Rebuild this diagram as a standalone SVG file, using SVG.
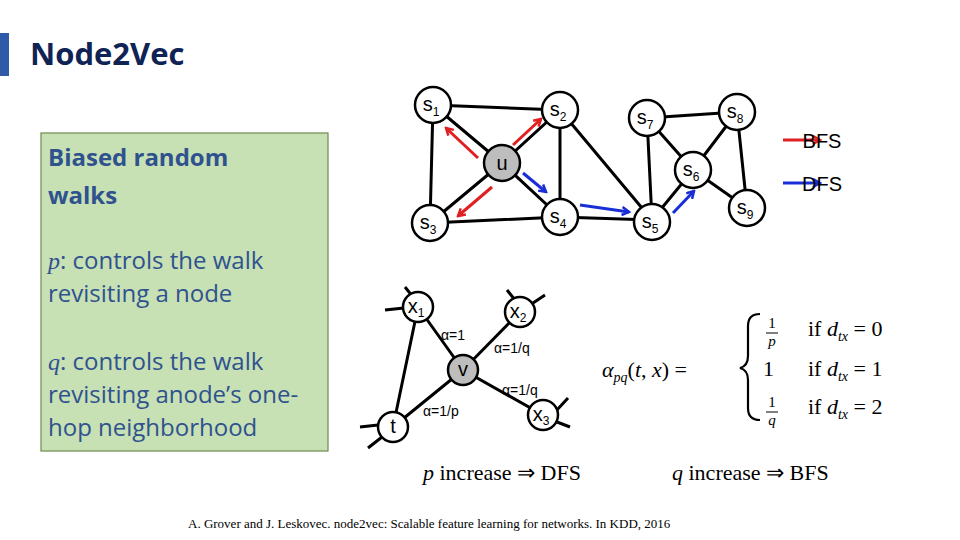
<svg xmlns="http://www.w3.org/2000/svg" width="960" height="540" viewBox="0 0 960 540">
<style>
.e{stroke:#000;stroke-width:3;fill:none}
.n circle{fill:#fff;stroke:#000;stroke-width:2.5}
.n circle.g{fill:#bdbdbd}
.lab{font-family:"Liberation Sans",Arial,sans-serif;font-size:20px;text-anchor:middle}
.sub{font-size:12px}
.al{font-family:"Liberation Sans",Arial,sans-serif;font-size:14px}
.bx{font-family:"Open Sans","Liberation Sans",sans-serif;font-size:24px;fill:#2f528f}
.m{font-family:"Liberation Serif","Times New Roman",serif;font-size:22px}
</style>
<defs>
<marker id="ar" markerWidth="10" markerHeight="10" refX="8" refY="5" orient="auto" markerUnits="userSpaceOnUse"><path d="M1,1 L8,5 L1,9" fill="none" stroke="#e02020" stroke-width="2.5"/></marker>
<marker id="ab" markerWidth="10" markerHeight="10" refX="8" refY="5" orient="auto" markerUnits="userSpaceOnUse"><path d="M1,1 L8,5 L1,9" fill="none" stroke="#1a2ed8" stroke-width="2.5"/></marker>
</defs>
<rect width="960" height="540" fill="#fff"/>
<rect x="0" y="33" width="9" height="43" fill="#2e5aa8"/>
<text x="30" y="65" font-family="Open Sans,Liberation Sans,sans-serif" font-weight="bold" font-size="31" fill="#0f2355">Node2Vec</text>
<g id="box">
<rect x="41" y="133" width="287" height="318" fill="#c7e0b4" stroke="#6e8a50" stroke-width="1.2"/>
<text class="bx" x="48" y="166" font-weight="bold" font-size="26">Biased random</text>
<text class="bx" x="48" y="204" font-weight="bold" font-size="26">walks</text>
<text class="bx" x="48" y="269"><tspan font-family="Liberation Serif,serif" font-style="italic">p</tspan>: controls the walk</text>
<text class="bx" x="48" y="302">revisiting a node</text>
<text class="bx" x="48" y="370"><tspan font-family="Liberation Serif,serif" font-style="italic">q</tspan>: controls the walk</text>
<text class="bx" x="48" y="403">revisiting anode’s one-</text>
<text class="bx" x="48" y="436">hop neighborhood</text>
</g>
<g id="connectors">
<path class="e" d="M433,105L560,110 M433,105L430,223 M433,105L502,163 M560,110L502,163 M560,110L560,217 M560,110L652,220 M430,223L502,163 M430,223L560,217 M502,163L560,217 M560,217L652,220 M652,220L647,118 M647,118L737,112 M647,118L693,170 M693,170L737,112 M693,170L652,220 M693,170L747,208 M737,112L747,208"/>
<path class="e" d="M418,307L463,370 M418,307L393,427 M393,427L463,370 M463,370L520,312 M463,370L543,415 M405,287L413,297 M385,310L404,308 M507,290L515,300 M545,295L533,303 M360,427L378,425 M368,448L382,437 M568,398L556,411 M570,427L557,422"/>
<g stroke-width="3" fill="none">
<path d="M478,158L446,128" stroke="#e02020" marker-end="url(#ar)"/>
<path d="M513,145L541,119" stroke="#e02020" marker-end="url(#ar)"/>
<path d="M492,187L458,216" stroke="#e02020" marker-end="url(#ar)"/>
<path d="M523,173L546,192" stroke="#1a2ed8" marker-end="url(#ab)"/>
<path d="M580,205L629,212" stroke="#1a2ed8" marker-end="url(#ab)"/>
<path d="M673,213L694,191" stroke="#1a2ed8" marker-end="url(#ab)"/>
<path d="M783,140L820,140" stroke="#e02020" marker-end="url(#ar)"/>
<path d="M783,183L820,183" stroke="#1a2ed8" marker-end="url(#ab)"/>
</g>
</g>
<text class="lab" x="822" y="148" text-anchor="start" font-size="23">BFS</text>
<text class="lab" x="822" y="191" text-anchor="start" font-size="23">DFS</text>
<g id="s1" class="n"><circle cx="433" cy="105" r="18"/><text class="lab" x="431" y="111">s<tspan class="sub" dy="5">1</tspan></text></g>
<g id="s2" class="n"><circle cx="560" cy="110" r="18"/><text class="lab" x="558" y="116">s<tspan class="sub" dy="5">2</tspan></text></g>
<g id="s3" class="n"><circle cx="430" cy="223" r="18"/><text class="lab" x="428" y="229">s<tspan class="sub" dy="5">3</tspan></text></g>
<g id="s4" class="n"><circle cx="560" cy="217" r="18"/><text class="lab" x="558" y="223">s<tspan class="sub" dy="5">4</tspan></text></g>
<g id="s5" class="n"><circle cx="652" cy="222" r="18"/><text class="lab" x="650" y="228">s<tspan class="sub" dy="5">5</tspan></text></g>
<g id="s6" class="n"><circle cx="693" cy="170" r="18"/><text class="lab" x="691" y="176">s<tspan class="sub" dy="5">6</tspan></text></g>
<g id="s7" class="n"><circle cx="647" cy="118" r="18"/><text class="lab" x="645" y="124">s<tspan class="sub" dy="5">7</tspan></text></g>
<g id="s8" class="n"><circle cx="737" cy="112" r="18"/><text class="lab" x="735" y="118">s<tspan class="sub" dy="5">8</tspan></text></g>
<g id="s9" class="n"><circle cx="747" cy="208" r="18"/><text class="lab" x="745" y="214">s<tspan class="sub" dy="5">9</tspan></text></g>
<g id="u" class="n"><circle class="g" cx="502" cy="163" r="18"/><text class="lab" x="502" y="170">u</text></g>
<g id="x1" class="n"><circle cx="418" cy="307" r="15"/><text class="lab" x="416" y="313" font-size="16">x<tspan class="sub" font-size="10" dy="4">1</tspan></text></g>
<g id="x2" class="n"><circle cx="520" cy="312" r="15"/><text class="lab" x="518" y="318" font-size="16">x<tspan class="sub" font-size="10" dy="4">2</tspan></text></g>
<g id="x3" class="n"><circle cx="543" cy="415" r="15"/><text class="lab" x="541" y="421" font-size="16">x<tspan class="sub" font-size="10" dy="4">3</tspan></text></g>
<g id="v" class="n"><circle class="g" cx="463" cy="370" r="15"/><text class="lab" x="463" y="376" font-size="16">v</text></g>
<g id="t" class="n"><circle cx="393" cy="427" r="15"/><text class="lab" x="393" y="433" font-size="16">t</text></g>
<text class="al" x="441" y="340">α=1</text>
<text class="al" x="494" y="353">α=1/q</text>
<text class="al" x="502" y="395">α=1/q</text>
<text class="al" x="423" y="416">α=1/p</text>
<g id="formula" font-family="Liberation Serif,serif" font-size="22">
<text x="602" y="377"><tspan font-style="italic">α</tspan><tspan font-style="italic" font-size="14" dy="5">pq</tspan><tspan dy="-5">(</tspan><tspan font-style="italic">t</tspan>, <tspan font-style="italic">x</tspan>) =</text>
<path d="M760,314 Q748,314 748,326 L748,356 Q748,366 740,368 Q748,370 748,380 L748,408 Q748,420 760,420" fill="none" stroke="#000" stroke-width="2.2"/>
<text x="772" y="328" font-size="15" text-anchor="middle">1</text><line x1="766" y1="333" x2="778" y2="333" stroke="#000" stroke-width="1"/><text x="772" y="346" font-size="15" font-style="italic" text-anchor="middle">p</text>
<text x="763" y="376">1</text>
<text x="772" y="407" font-size="15" text-anchor="middle">1</text><line x1="766" y1="412" x2="778" y2="412" stroke="#000" stroke-width="1"/><text x="772" y="425" font-size="15" font-style="italic" text-anchor="middle">q</text>
<text x="808" y="336">if <tspan font-style="italic">d</tspan><tspan font-style="italic" font-size="14" dy="5">tx</tspan><tspan dy="-5"> = 0</tspan></text>
<text x="808" y="376">if <tspan font-style="italic">d</tspan><tspan font-style="italic" font-size="14" dy="5">tx</tspan><tspan dy="-5"> = 1</tspan></text>
<text x="808" y="414">if <tspan font-style="italic">d</tspan><tspan font-style="italic" font-size="14" dy="5">tx</tspan><tspan dy="-5"> = 2</tspan></text>
</g>
<text class="m" x="423" y="480"><tspan font-style="italic">p</tspan> increase ⇒ DFS</text>
<text class="m" x="672" y="480"><tspan font-style="italic">q</tspan> increase ⇒ BFS</text>
<text x="188" y="528" font-family="Liberation Serif,serif" font-size="13">A. Grover and J. Leskovec. node2vec: Scalable feature learning for networks. In KDD, 2016</text>
</svg>
